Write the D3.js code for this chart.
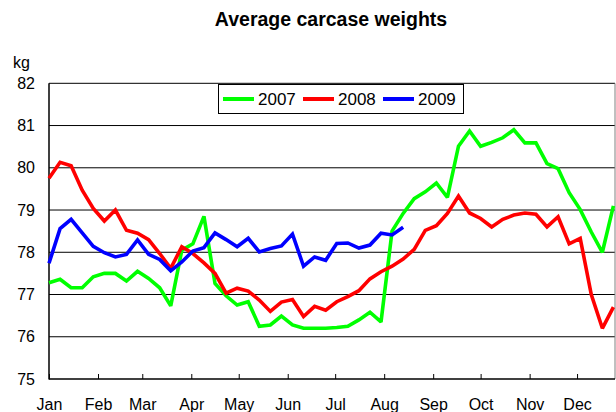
<!DOCTYPE html>
<html>
<head>
<meta charset="utf-8">
<script src="https://cdn.jsdelivr.net/npm/d3@7"></script>
<style>
html,body{margin:0;padding:0;background:#fff;}
svg{display:block;font-family:"Liberation Sans",Arial,sans-serif;}
</style>
</head>
<body>
<svg id="chart" width="616" height="412"></svg>
<script>
// Weekly values (week 1..52)
const weeks = d3.range(52);
const series2007 = [77.28,77.36,77.16,77.16,77.42,77.5,77.5,77.32,77.55,77.38,77.16,76.73,78.05,78.2,78.85,77.26,76.97,76.75,76.83,76.25,76.28,76.49,76.28,76.2,76.2,76.2,76.22,76.25,76.4,76.58,76.35,78.5,78.92,79.27,79.43,79.64,79.3,80.51,80.87,80.51,80.6,80.71,80.9,80.59,80.59,80.1,79.98,79.41,79.01,78.48,78.0,79.1];
const series2008 = [79.75,80.13,80.05,79.47,79.04,78.74,79.0,78.52,78.45,78.3,77.97,77.62,78.13,77.97,77.75,77.5,77.03,77.15,77.08,76.87,76.6,76.82,76.88,76.48,76.72,76.63,76.83,76.95,77.09,77.37,77.54,77.67,77.84,78.07,78.52,78.63,78.92,79.33,78.93,78.8,78.6,78.78,78.88,78.93,78.9,78.6,78.84,78.2,78.33,77.0,76.2,76.7];
const series2009 = [77.74,78.56,78.78,78.46,78.14,77.99,77.89,77.95,78.29,77.95,77.83,77.56,77.77,78.03,78.11,78.46,78.3,78.13,78.33,78.01,78.09,78.15,78.43,77.67,77.89,77.81,78.21,78.22,78.1,78.17,78.45,78.41,78.59];
const seriesNames = ["2007","2008","2009"];
const seriesColors = ["#00ff00","#ff0000","#0000ff"];
const monthLabels = ["Jan","Feb","Mar","Apr","May","Jun","Jul","Aug","Sep","Oct","Nov","Dec"];
const monthStartDays = [0,31,59,90,120,151,181,212,243,273,304,334];
const yTicks = [75,76,77,78,79,80,81,82];

const svg = d3.select("#chart");
const L = 49, R = 615, T = 83.3, B = 379;

const x = d3.scaleLinear().domain([0, 358]).range([L, R]);
const y = d3.scaleLinear().domain([75, 82]).range([B, T]);

// title
svg.append("text").attr("x", 331).attr("y", 26).attr("text-anchor","middle")
  .attr("font-size", 19.5).attr("font-weight","bold").text("Average carcase weights");
svg.append("text").attr("x", 13).attr("y", 68).attr("font-size", 16).text("kg");

// gridlines
svg.append("g").selectAll("line").data(yTicks.slice(1)).join("line")
  .attr("x1", L).attr("x2", R).attr("y1", d => y(d)).attr("y2", d => y(d))
  .attr("stroke", "#000").attr("stroke-width", 1);
// right border
svg.append("line").attr("x1", R).attr("x2", R).attr("y1", T).attr("y2", B)
  .attr("stroke", "#808080").attr("stroke-width", 1);

// y axis labels
const yAxis = d3.axisLeft(y).tickValues(yTicks).tickFormat(d3.format("d")).tickSize(0).tickPadding(14);
const gy = svg.append("g").attr("transform", `translate(${L},0)`).call(yAxis);
gy.select(".domain").remove();
gy.selectAll("text").attr("font-size", 16).attr("font-family", "Liberation Sans, Arial, sans-serif").attr("fill","#000");

// x axis
const xAxis = d3.axisBottom(x).tickValues(monthStartDays)
  .tickFormat((d,i) => monthLabels[i]).tickSize(-5).tickPadding(20);
const gx = svg.append("g").attr("transform", `translate(0,${B})`).call(xAxis);
gx.select(".domain").remove();
gx.selectAll("line").attr("stroke","#000");
gx.selectAll("text").attr("font-size", 16).attr("font-family", "Liberation Sans, Arial, sans-serif").attr("fill","#000");

// axis lines
svg.append("line").attr("x1", L).attr("x2", L).attr("y1", T).attr("y2", B + 0.5)
  .attr("stroke", "#000").attr("stroke-width", 1.5);
svg.append("line").attr("x1", L).attr("x2", R).attr("y1", B).attr("y2", B)
  .attr("stroke", "#000").attr("stroke-width", 1.5);

// lines
const line = d3.line().x((d,i) => x(weeks[i] * 7)).y(d => y(d));
[series2007, series2008, series2009].forEach((s, k) => {
  svg.append("path").datum(s).attr("d", line).attr("fill","none")
    .attr("stroke", seriesColors[k]).attr("stroke-width", 3.6)
    .attr("stroke-linejoin","miter").attr("stroke-miterlimit", 2);
});

// legend
const lg = svg.append("g");
lg.append("rect").attr("x", 218.5).attr("y", 84.5).attr("width", 245).attr("height", 29)
  .attr("fill", "#fff").attr("stroke", "#000").attr("stroke-width", 1);
const legX = [223, 303, 383];
seriesNames.forEach((n, k) => {
  lg.append("line").attr("x1", legX[k]).attr("x2", legX[k] + 31).attr("y1", 99).attr("y2", 99)
    .attr("stroke", seriesColors[k]).attr("stroke-width", 4);
  lg.append("text").attr("x", legX[k] + 35).attr("y", 105).attr("font-size", 17).text(n);
});
</script>
</body>
</html>
